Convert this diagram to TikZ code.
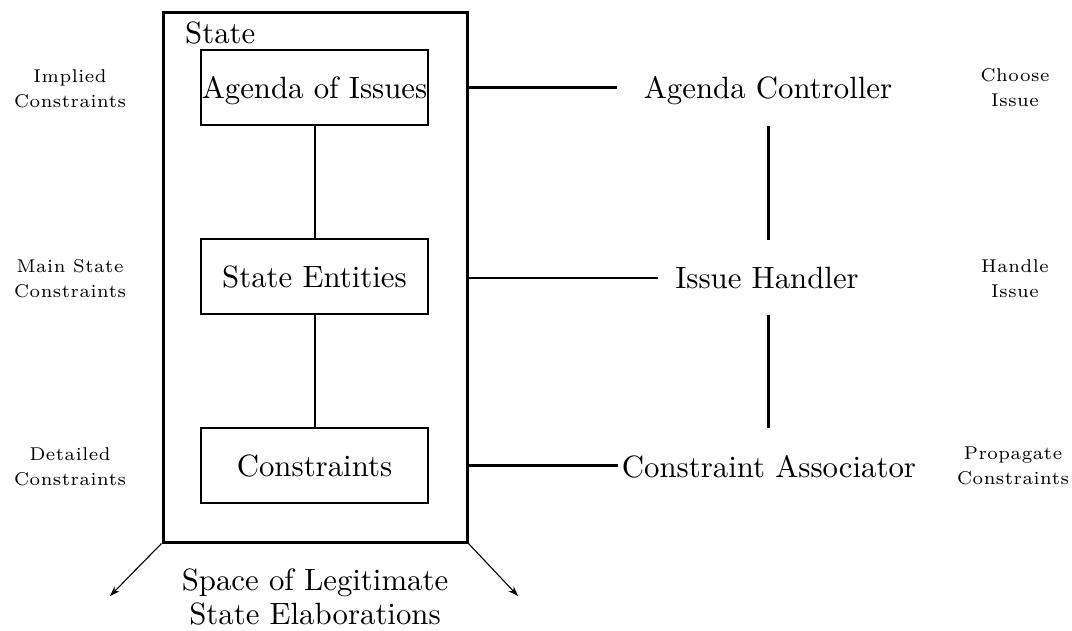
\documentclass[tikz,border=0pt]{standalone}
\usepackage{fontspec}
\setmainfont{lmroman10-regular.otf}
\newfontfamily\labelrm[LetterSpace=3]{lmroman7-regular.otf}
\usetikzlibrary{arrows.meta}
\tikzset{
  mainfont/.style={font=\fontsize{30.8}{34}\selectfont},
  smallfont/.style={font=\labelrm\fontsize{18.5}{25}\selectfont},
  statebox/.style={draw, line width=3pt, minimum width=304, minimum height=530, inner sep=0pt},
  innerbox/.style={draw, line width=2.3pt, minimum width=227, minimum height=75, inner sep=0pt,
    text height=21pt, text depth=0pt, mainfont},
  proc/.style={mainfont, inner sep=0pt, anchor=base},
  sidelabel/.style={smallfont, inner sep=0pt, align=center},
  thickline/.style={line width=3pt},
  thinline/.style={line width=1.8pt},
  boxlink/.style={line width=2pt},
  spread/.style={line width=1.1pt, -{Stealth[length=10pt,width=7pt]}}
}
\begin{document}
\begin{tikzpicture}[x=1pt,y=-1pt]
\useasboundingbox (0,0) rectangle (1072,630);
% state container
\node[statebox] (state) at (315,277) {};
\node[mainfont, inner sep=0pt, anchor=base west] (statelbl) at (185,43) {State};
% inner boxes
\node[innerbox] (agenda) at (314.5,87.5) {Agenda of Issues};
\node[innerbox] (entities) at (314.5,276.5) {State Entities};
\node[innerbox] (constraints) at (314.5,465.5) {Constraints};
\draw[boxlink] (agenda.south) -- (entities.north);
\draw[boxlink] (entities.south) -- (constraints.north);
% processes
\node[proc] (ctrl) at (768,98) {Agenda Controller};
\node[proc] (handler) at (767,288) {Issue Handler};
\node[proc] (assoc) at (769,477) {Constraint Associator};
\draw[thickline, shorten >=27pt] (state.east |- agenda.center) -- (ctrl.west |- agenda.center);
\draw[thinline, shorten >=17pt] (state.east |- 0,278) -- (handler.west |- 0,278);
\draw[thickline, shorten >=4pt] (state.east |- constraints.center) -- (assoc.west |- constraints.center);
\coordinate (v1a) at (768,126);
\coordinate (v1b) at (768,240);
\coordinate (v2a) at (768,315);
\coordinate (v2b) at (768,428);
\draw[thickline] (ctrl.south |- v1a) -- (ctrl.south |- v1b);
\draw[thickline] (ctrl.south |- v2a) -- (ctrl.south |- v2b);
% side labels
\node[sidelabel] (impl) at (70,88.5) {Implied\\Constraints};
\node[sidelabel] (mainst) at (70,279) {Main State\\Constraints};
\node[sidelabel] (detail) at (70,467) {Detailed\\Constraints};
\node[sidelabel] (choose) at (1015,88) {Choose\\Issue};
\node[sidelabel] (handle) at (1015,279) {Handle\\Issue};
\node[sidelabel] (propag) at (1013,466) {Propagate\\Constraints};
% bottom
\node[mainfont, inner sep=0pt, align=center] (space) at (315,597) {Space of Legitimate\\State Elaborations};
\coordinate (arrL) at (110,596);
\coordinate (arrR) at (518,596);
\draw[spread] (state.south west) -- (arrL);
\draw[spread] (state.south east) -- (arrR);
\end{tikzpicture}
\end{document}
